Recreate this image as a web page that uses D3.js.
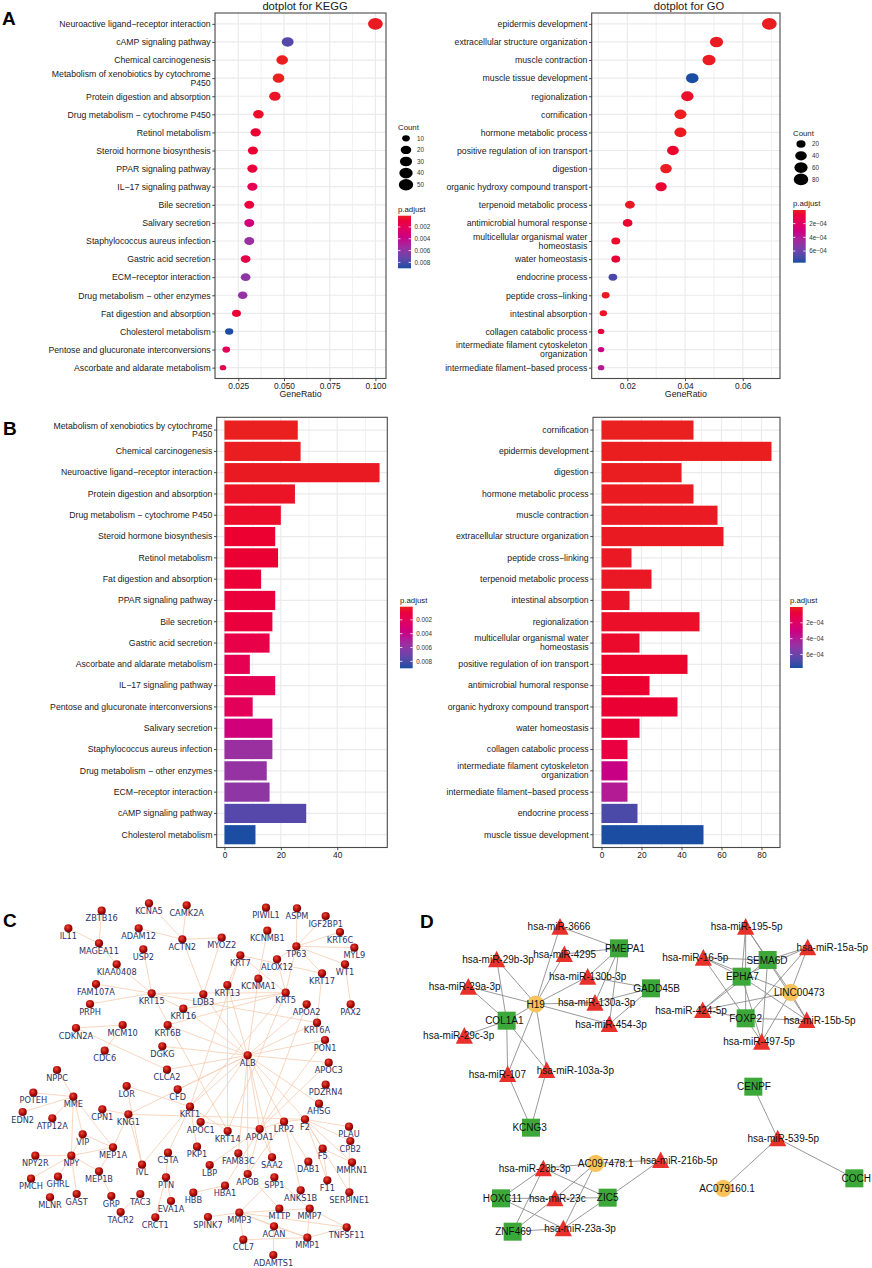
<!DOCTYPE html>
<html>
<head>
<meta charset="utf-8">
<script src="https://cdn.jsdelivr.net/npm/d3@7"></script>
<style>
  body { margin: 0; background: #fff; }
  svg { display: block; }
</style>
</head>
<body>
<script>
// ---------- data: KEGG enrichment (dotplot order) ----------
const keggTerms = ["Neuroactive ligand\u2212receptor interaction", "cAMP signaling pathway", "Chemical carcinogenesis",
  "Metabolism of xenobiotics by cytochrome P450", "Protein digestion and absorption", "Drug metabolism \u2212 cytochrome P450",
  "Retinol metabolism", "Steroid hormone biosynthesis", "PPAR signaling pathway", "IL\u221217 signaling pathway",
  "Bile secretion", "Salivary secretion", "Staphylococcus aureus infection", "Gastric acid secretion",
  "ECM\u2212receptor interaction", "Drug metabolism \u2212 other enzymes", "Fat digestion and absorption",
  "Cholesterol metabolism", "Pentose and glucuronate interconversions", "Ascorbate and aldarate metabolism"];
const keggRatio = [0.100, 0.052, 0.049, 0.047, 0.045, 0.036, 0.0345, 0.033, 0.0327, 0.0327,
  0.031, 0.031, 0.031, 0.029, 0.029, 0.0274, 0.024, 0.020, 0.0184, 0.0166];
const keggCount = [55, 29, 27, 26, 25, 20, 19, 18, 18, 18, 17, 17, 17, 16, 16, 15, 13, 11, 10, 9];
const keggPadj = [0.0002, 0.0077, 0.00015, 0.0001, 0.0003, 0.0004, 0.0007, 0.0006, 0.0009, 0.0018,
  0.0010, 0.0034, 0.0056, 0.0014, 0.0060, 0.0058, 0.0008, 0.0090, 0.0020, 0.0017];

// ---------- data: GO enrichment (dotplot order) ----------
const goTerms = ["epidermis development", "extracellular structure organization", "muscle contraction",
  "muscle tissue development", "regionalization", "cornification", "hormone metabolic process",
  "positive regulation of ion transport", "digestion", "organic hydroxy compound transport",
  "terpenoid metabolic process", "antimicrobial humoral response", "multicellular organismal water homeostasis",
  "water homeostasis", "endocrine process", "peptide cross\u2212linking", "intestinal absorption",
  "collagen catabolic process", "intermediate filament cytoskeleton organization", "intermediate filament\u2212based process"];
const goRatio = [0.0692, 0.0509, 0.0483, 0.0425, 0.0408, 0.0384, 0.0384, 0.0358, 0.0334, 0.0317,
  0.0209, 0.0201, 0.0160, 0.0160, 0.0150, 0.0125, 0.0117, 0.0109, 0.0109, 0.0109];
const goCount = [85, 61, 58, 51, 49, 46, 46, 43, 40, 38, 25, 24, 19, 19, 18, 15, 14, 13, 13, 13];
const goPadj = [0.000002, 0.000010, 0.000008, 0.00077, 0.000025, 0.000001, 0.000006, 0.000035, 0.000004, 0.00005,
  0.000015, 0.00004, 0.00003, 0.00006, 0.00068, 0.000012, 0.00002, 0.00009, 0.00032, 0.00040];

const keggTicks = [0.025, 0.050, 0.075, 0.100];
const goTicks = [0.02, 0.04, 0.06];
const keggCountBreaks = [10, 20, 30, 40, 50];
const goCountBreaks = [20, 40, 60, 80];
const keggPadjBreaks = [0.002, 0.004, 0.006, 0.008];
const goPadjBreaks = [0.0002, 0.0004, 0.0006];
const keggBarTicks = [0, 20, 40];
const goBarTicks = [0, 20, 40, 60, 80];

// ---------- data: PPI network (panel C), layout in source units ----------
const cNodes = [
  ["ZBTB16",305,122],["IL11",205,175],["MAGEA11",297,220],["KCNA5",447,100],["CAMK2A",560,106],["ADAM12",416,175],
  ["ACTN2",547,208],["MYOZ2",665,203],["USP2",430,238],["KIAA0408",350,283],["FAM107A",288,342],["KRT15",455,370],
  ["PRPH",270,402],["LDB3",610,373],["KRT16",550,416],["KRT6B",503,465],["CDKN2A",228,474],["MCM10",368,465],
  ["CDC6",314,542],["DGKG",487,529],["PIWIL1",798,113],["ASPM",891,115],["IGF2BP1",977,138],["KCNMB1",802,182],
  ["KRT6C",1020,186],["TP63",889,229],["MYL9",1063,233],["KRT7",721,256],["ALOX12",831,268],["WT1",1035,283],
  ["KRT17",966,310],["KCNMA1",775,326],["KRT13",682,345],["KRT5",857,368],["APOA2",920,403],["PAX2",1052,403],
  ["KRT6A",951,458],["PON1",975,510],["ALB",743,556],["APOC3",986,578],["NPPC",171,600],["CLCA2",501,599],
  ["PDZRN4",977,644],["LOR",380,648],["CFD",533,658],["POTEH",100,668],["MME",220,680],["AHSG",957,701],
  ["EDN2",68,726],["CPN1",307,718],["KNG1",385,733],["KRT1",570,710],["F2",915,748],["ATP12A",157,745],
  ["APOC1",602,756],["LRP2",852,755],["PLAU",1047,770],["APOA1",779,777],["KRT14",683,783],["VIP",248,793],
  ["CPB2",1051,813],["MEP1A",339,832],["PKP1",591,830],["F5",968,836],["CSTA",504,848],["FAM83C",715,850],
  ["NPY2R",106,857],["NPY",214,857],["SAA2",816,862],["MMRN1",1056,877],["DAB1",925,875],["IVL",426,884],
  ["LBP",629,885],["MEP1B",297,904],["APOB",743,912],["PMCH",93,926],["GHRL",174,920],["SPP1",823,922],
  ["PTN",498,922],["F11",982,931],["HBA1",675,947],["ANKS1B",902,961],["SERPINE1",1048,967],["MLNR",150,982],
  ["GAST",230,972],["GRP",334,978],["TAC3",421,972],["HBB",580,968],["EVA1A",513,993],["TACR2",362,1026],
  ["MMP3",718,1028],["MTTP",838,1016],["MMP7",929,1016],["CRCT1",466,1042],["SPINK7",624,1041],["ACAN",822,1069],
  ["TNFSF11",1040,1072],["CCL7",730,1109],["MMP1",922,1103],["ADAMTS1",820,1155]
];
const cEdges = [
  ["ZBTB16","MAGEA11"],["IL11","MAGEA11"],["MAGEA11","KIAA0408"],["KIAA0408","KRT15"],["USP2","KRT15"],
  ["FAM107A","KRT15"],["PRPH","KRT15"],["KRT15","KRT16"],["KRT15","KRT6A"],["KRT15","KRT14"],["KRT15","KRT5"],
  ["KCNA5","ACTN2"],["CAMK2A","ACTN2"],["ADAM12","ACTN2"],["ACTN2","MYOZ2"],["ACTN2","LDB3"],["MYOZ2","LDB3"],
  ["LDB3","ALB"],["KRT7","KRT17"],["KRT7","KRT13"],["KRT7","KRT5"],["KRT7","KRT1"],
  ["ASPM","TP63"],["IGF2BP1","TP63"],["KRT6C","TP63"],["MYL9","TP63"],["WT1","TP63"],["TP63","KRT5"],
  ["TP63","ALOX12"],["KRT17","TP63"],["WT1","PAX2"],["KRT17","KRT6A"],["KCNMB1","KCNMA1"],["KCNMA1","ALB"],
  ["ALOX12","KRT5"],["KRT5","KRT14"],["KRT5","KRT1"],["KRT5","KRT6B"],["KRT5","KRT16"],["KRT13","KRT14"],
  ["ALB","DGKG"],["ALB","CFD"],["ALB","CLCA2"],["ALB","KRT1"],["ALB","APOA1"],["ALB","APOA2"],["ALB","APOC3"],
  ["ALB","PON1"],["ALB","AHSG"],["ALB","F2"],["ALB","LRP2"],["ALB","APOC1"],["ALB","SAA2"],["ALB","APOB"],
  ["ALB","KRT6A"],["ALB","KRT13"],["ALB","KRT16"],["ALB","KRT6B"],["ALB","FAM83C"],["ALB","KNG1"],
  ["CDKN2A","MCM10"],["MCM10","CDC6"],["CDKN2A","CLCA2"],
  ["NPPC","MME"],["POTEH","MME"],["EDN2","MME"],["ATP12A","MME"],["MME","NPY"],["MME","VIP"],["MME","MEP1A"],
  ["NPY2R","NPY"],["PMCH","NPY"],["GHRL","NPY"],["GAST","NPY"],["VIP","NPY"],["NPY","MEP1A"],["NPY","MEP1B"],
  ["MEP1A","MEP1B"],["MEP1B","GRP"],["GHRL","MLNR"],["MEP1A","KNG1"],["VIP","MEP1A"],
  ["CPN1","KNG1"],["KNG1","F2"],["KNG1","IVL"],["LOR","KRT1"],["LOR","IVL"],["IVL","KRT1"],["CSTA","KRT1"],
  ["PKP1","KRT1"],["KRT1","KRT14"],["PTN","EVA1A"],["TAC3","TACR2"],["PTN","CSTA"],["CRCT1","PTN"],
  ["F2","PLAU"],["F2","CPB2"],["F2","F5"],["F2","F11"],["F2","SERPINE1"],["F2","MMRN1"],["F2","AHSG"],["F2","LRP2"],
  ["PLAU","SERPINE1"],["F5","MMRN1"],["F5","F11"],["LRP2","DAB1"],["LRP2","APOA1"],["LRP2","APOB"],["LRP2","ANKS1B"],
  ["APOA1","APOC1"],["APOA1","APOC3"],["APOA1","APOA2"],["APOA1","PON1"],["APOA1","SAA2"],["APOA1","APOB"],
  ["APOA1","LBP"],["APOA1","HBA1"],["HBA1","HBB"],["APOB","MTTP"],["MMP3","MMP7"],["MMP3","MMP1"],
  ["MMP3","TNFSF11"],["MMP3","SPINK7"],["MMP7","MMP1"],["MMP7","TNFSF11"],["MMP1","TNFSF11"],["MMP1","CCL7"],
  ["CCL7","MMP3"],["ACAN","MMP3"],["ACAN","ADAMTS1"],["ACAN","MMP1"],["SPP1","MMP3"],["SPP1","MMP7"]
];

// ---------- data: ceRNA network (panel D): name, kind, x, y, label x ----------
const dNodes = [
  ["hsa-miR-3666","mir",420,170,417],["PMEPA1","gene",597,235,615],["hsa-miR-4295","mir",433,252,434],
  ["hsa-miR-29b-3p","mir",230,268,234],["GADD45B","gene",693,355,710],["hsa-miR-130b-3p","mir",503,320,503],
  ["hsa-miR-29a-3p","mir",145,350,134],["H19","lnc",347,402,347],["hsa-miR-130a-3p","mir",525,398,530],
  ["COL1A1","gene",260,452,253],["hsa-miR-454-3p","mir",568,462,573],["hsa-miR-29c-3p","mir",133,497,116],
  ["hsa-miR-107","mir",263,612,232],["hsa-miR-103a-3p","mir",380,600,466],["KCNG3","gene",333,773,329],
  ["hsa-miR-195-5p","mir",977,170,980],["hsa-miR-15a-5p","mir",1163,232,1237],["hsa-miR-16-5p","mir",850,263,826],
  ["SEMA6D","gene",1043,270,1041],["EPHA7","gene",965,320,967],["LINC00473","lnc",1112,367,1138],
  ["hsa-miR-424-5p","mir",848,420,813],["FOXP2","gene",977,445,977],["hsa-miR-15b-5p","mir",1160,450,1199],
  ["hsa-miR-497-5p","mir",1025,515,1017],["CENPF","gene",1000,650,1002],["hsa-miR-539-5p","mir",1073,805,1090],
  ["COCH","gene",1303,925,1309],["AC079160.1","lnc",910,955,921],["AC097478.1","lnc",527,880,557],
  ["hsa-miR-216b-5p","mir",722,870,777],["hsa-miR-23b-3p","mir",370,895,344],["HOXC11","gene",243,985,247],
  ["hsa-miR-23c","mir",405,985,412],["ZIC5","gene",563,983,563],["ZNF469","gene",278,1085,280],
  ["hsa-miR-23a-3p","mir",430,1075,480]
];
const dEdges = [
  ["H19","hsa-miR-3666"],["H19","hsa-miR-4295"],["H19","hsa-miR-29b-3p"],["H19","hsa-miR-29a-3p"],
  ["H19","hsa-miR-130b-3p"],["H19","hsa-miR-130a-3p"],["H19","hsa-miR-454-3p"],["H19","COL1A1"],
  ["H19","hsa-miR-107"],["H19","hsa-miR-103a-3p"],["hsa-miR-3666","PMEPA1"],["hsa-miR-4295","PMEPA1"],
  ["PMEPA1","hsa-miR-130b-3p"],["PMEPA1","hsa-miR-130a-3p"],["PMEPA1","hsa-miR-454-3p"],
  ["GADD45B","hsa-miR-130b-3p"],["GADD45B","hsa-miR-130a-3p"],["GADD45B","hsa-miR-454-3p"],
  ["COL1A1","hsa-miR-29b-3p"],["COL1A1","hsa-miR-29a-3p"],["COL1A1","hsa-miR-29c-3p"],
  ["COL1A1","hsa-miR-107"],["COL1A1","hsa-miR-103a-3p"],["hsa-miR-107","KCNG3"],["hsa-miR-103a-3p","KCNG3"],
  ["hsa-miR-195-5p","SEMA6D"],["hsa-miR-195-5p","EPHA7"],["hsa-miR-195-5p","FOXP2"],["hsa-miR-195-5p","LINC00473"],
  ["hsa-miR-15a-5p","SEMA6D"],["hsa-miR-15a-5p","EPHA7"],["hsa-miR-15a-5p","FOXP2"],["hsa-miR-15a-5p","LINC00473"],
  ["hsa-miR-16-5p","SEMA6D"],["hsa-miR-16-5p","EPHA7"],["hsa-miR-16-5p","FOXP2"],["hsa-miR-16-5p","LINC00473"],
  ["hsa-miR-424-5p","SEMA6D"],["hsa-miR-424-5p","EPHA7"],["hsa-miR-424-5p","FOXP2"],["hsa-miR-424-5p","LINC00473"],
  ["hsa-miR-15b-5p","SEMA6D"],["hsa-miR-15b-5p","EPHA7"],["hsa-miR-15b-5p","FOXP2"],["hsa-miR-15b-5p","LINC00473"],
  ["hsa-miR-497-5p","SEMA6D"],["hsa-miR-497-5p","EPHA7"],["hsa-miR-497-5p","FOXP2"],["hsa-miR-497-5p","LINC00473"],
  ["CENPF","hsa-miR-539-5p"],["hsa-miR-539-5p","COCH"],["hsa-miR-539-5p","AC079160.1"],
  ["AC097478.1","hsa-miR-23b-3p"],["AC097478.1","hsa-miR-216b-5p"],["AC097478.1","hsa-miR-23c"],
  ["AC097478.1","hsa-miR-23a-3p"],["hsa-miR-216b-5p","ZIC5"],
  ["hsa-miR-23b-3p","HOXC11"],["hsa-miR-23b-3p","ZIC5"],["hsa-miR-23b-3p","ZNF469"],
  ["hsa-miR-23c","HOXC11"],["hsa-miR-23c","ZIC5"],["hsa-miR-23c","ZNF469"],
  ["hsa-miR-23a-3p","HOXC11"],["hsa-miR-23a-3p","ZIC5"],["hsa-miR-23a-3p","ZNF469"]
];

// ---------- setup ----------
const FONT = "'Liberation Sans', Arial, Helvetica, sans-serif";
const svg = d3.select("body").append("svg").attr("width", 872).attr("height", 1268)
  .style("font-family", FONT);
const defs = svg.append("defs");
// p.adjust ramp: red -> magenta -> purple -> blue, as in the source
const padjRamp = d3.interpolateHcl("#EA1F1F", "#1B4EA2");
const GRID = "#EBEBEB";
const AXIS_FS = 8.7;

function minorTicks(major, domain) {
  var step = major[1] - major[0], out = [];
  for (var v = major[0] - step * 5 + step / 2; v <= domain[1]; v += step) {
    if (v >= domain[0]) out.push(v);
  }
  return out;
}

function wrapLabel(s, width) {
  var lines = [], cur = "";
  s.split(" ").forEach(function(w) {
    if (cur && (cur + " " + w).length > width) { lines.push(cur); cur = w; }
    else cur = cur ? cur + " " + w : w;
  });
  if (cur) lines.push(cur);
  return lines;
}

function expFormat(d) {
  var p = d.toExponential(0).split("e");
  var e = +p[1];
  return p[0] + "e" + (e < 0 ? "\u2212" : "+") + String(Math.abs(e)).padStart(2, "0");
}

// shared y-axis with wrapped term labels
function termAxis(g, y, left) {
  var ax = g.append("g").attr("transform", "translate(" + left + ",0)")
    .call(d3.axisLeft(y).tickSize(2.7).tickPadding(1.6));
  ax.select(".domain").remove();
  ax.selectAll(".tick line").attr("stroke", "#333").attr("stroke-width", 0.9);
  ax.selectAll(".tick text").attr("font-size", AXIS_FS).attr("fill", "#1a1a1a").attr("font-family", FONT)
    .each(function(d) {
      var t = d3.select(this), lines = wrapLabel(d, 40);
      if (lines.length < 2) return;
      var x = t.attr("x");
      t.text(null).attr("dy", null);
      lines.forEach(function(l, k) {
        t.append("tspan").attr("x", x)
          .attr("dy", k === 0 ? (0.32 - (lines.length - 1) * 0.5) + "em" : "1.0em").text(l);
      });
    });
}

function valueAxis(g, x, bottom, ticks, fmt) {
  var ax = g.append("g").attr("transform", "translate(0," + bottom + ")")
    .call(d3.axisBottom(x).tickValues(ticks).tickFormat(fmt).tickSize(2.7).tickPadding(1.4));
  ax.select(".domain").remove();
  ax.selectAll(".tick line").attr("stroke", "#333").attr("stroke-width", 0.9);
  ax.selectAll(".tick text").attr("font-size", 8.4).attr("fill", "#1a1a1a").attr("font-family", FONT);
}

function gridX(g, x, ticks, domain, top, bottom) {
  g.selectAll(null).data(minorTicks(ticks, domain)).join("line")
    .attr("x1", d => x(d)).attr("x2", d => x(d)).attr("y1", top).attr("y2", bottom)
    .attr("stroke", GRID).attr("stroke-width", 0.7);
  g.selectAll(null).data(ticks).join("line")
    .attr("x1", d => x(d)).attr("x2", d => x(d)).attr("y1", top).attr("y2", bottom)
    .attr("stroke", GRID).attr("stroke-width", 1.2);
}

function gridY(g, ys, left, right) {
  g.selectAll(null).data(ys).join("line")
    .attr("x1", left).attr("x2", right).attr("y1", d => d).attr("y2", d => d)
    .attr("stroke", GRID).attr("stroke-width", 1.2);
}

function border(g, left, right, top, bottom) {
  g.append("rect").attr("x", left).attr("y", top).attr("width", right - left).attr("height", bottom - top)
    .attr("fill", "none").attr("stroke", "#4a4a4a").attr("stroke-width", 1.1);
}

var gradId = 0;
function colorbar(padj, breaks, fmt, o) {
  var ext = d3.extent(padj), col = d3.scaleSequential(padjRamp).domain(ext);
  var yb = d3.scaleLinear().domain(ext).range([o.top, o.bottom]);
  var id = "pgrad" + (gradId++);
  var lg = defs.append("linearGradient").attr("id", id).attr("x1", 0).attr("y1", 0).attr("x2", 0).attr("y2", 1);
  d3.range(0, 1.0001, 0.1).forEach(function(t) {
    lg.append("stop").attr("offset", t).attr("stop-color", col(ext[0] + t * (ext[1] - ext[0])));
  });
  var g = svg.append("g");
  g.append("text").attr("x", o.x).attr("y", o.top - 4).attr("font-size", 7.8).attr("fill", "#1a1a1a").text("p.adjust");
  g.append("rect").attr("x", o.x).attr("y", o.top).attr("width", o.w).attr("height", o.bottom - o.top)
    .attr("fill", "url(#" + id + ")");
  breaks.forEach(function(b) {
    [o.x, o.x + o.w - 2.4].forEach(function(xx) {
      g.append("line").attr("x1", xx).attr("x2", xx + 2.4).attr("y1", yb(b)).attr("y2", yb(b))
        .attr("stroke", "#fff").attr("stroke-width", 0.8);
    });
    g.append("text").attr("x", o.x + o.w + 3.5).attr("y", yb(b) + 2.2).attr("font-size", 6.3)
      .attr("fill", "#333").text(fmt(b));
  });
}

// ---------- dotplot ----------
function dotplot(o) {
  var g = svg.append("g");
  var x = d3.scaleLinear().domain(o.xDomain).range([o.left, o.right]);
  var y = d3.scalePoint().domain(o.terms).range([o.top, o.bottom]).padding(0.6);
  var col = d3.scaleSequential(padjRamp).domain(d3.extent(o.padj));
  var sizeT = d3.scaleLinear().domain(d3.extent(o.count)).range([0, 1]);
  var dotW = function(c) { return 6.5 + Math.sqrt(Math.max(0, sizeT(c))) * 8.3; };

  gridX(g, x, o.ticks, o.xDomain, o.top, o.bottom);
  gridY(g, o.terms.map(t => y(t)), o.left, o.right);

  g.selectAll("ellipse.dot").data(o.terms).join("ellipse").attr("class", "dot")
    .attr("cx", (d, i) => x(o.ratio[i])).attr("cy", d => y(d))
    .attr("rx", (d, i) => dotW(o.count[i]) / 2).attr("ry", (d, i) => dotW(o.count[i]) * 0.4)
    .attr("fill", (d, i) => col(o.padj[i]));

  border(g, o.left, o.right, o.top, o.bottom);
  termAxis(g, y, o.left);
  valueAxis(g, x, o.bottom, o.ticks, o.fmt);

  g.append("text").attr("x", (o.left + o.right) / 2).attr("y", o.bottom + 18.5).attr("text-anchor", "middle")
    .attr("font-size", 8.8).attr("fill", "#1a1a1a").text("GeneRatio");
  g.append("text").attr("x", o.titleX).attr("y", 9.5).attr("text-anchor", "middle")
    .attr("font-size", 11.2).attr("fill", "#1a1a1a").text(o.title);

  // size legend
  var lg = svg.append("g");
  lg.append("text").attr("x", o.legX).attr("y", o.legTop - 8).attr("font-size", 7.8).attr("fill", "#1a1a1a").text("Count");
  o.countBreaks.forEach(function(c, k) {
    var cy = o.legTop + k * o.legStep;
    lg.append("ellipse").attr("cx", o.legX + 8).attr("cy", cy).attr("rx", dotW(c) / 2).attr("ry", dotW(c) * 0.4).attr("fill", "#000");
    lg.append("text").attr("x", o.legX + 19).attr("y", cy + 2.2).attr("font-size", 6.3).attr("fill", "#333").text(c);
  });
  colorbar(o.padj, o.padjBreaks, o.padjFmt, o.bar);
}

// ---------- barplot ----------
function barplot(o) {
  var g = svg.append("g");
  var order = d3.range(o.terms.length).sort((a, b) => o.padj[a] - o.padj[b]);
  var terms = order.map(i => o.terms[i]);
  var maxC = d3.max(o.count);
  var xDomain = [-0.05 * maxC, 1.05 * maxC];
  var x = d3.scaleLinear().domain(xDomain).range([o.left, o.right]);
  var y = d3.scaleBand().domain(terms).range([o.top, o.bottom]).paddingInner(0.1).paddingOuter(0.15);
  var col = d3.scaleSequential(padjRamp).domain(d3.extent(o.padj));

  gridX(g, x, o.ticks, xDomain, o.top, o.bottom);
  gridY(g, terms.map(t => y(t) + y.bandwidth() / 2), o.left, o.right);

  g.selectAll("rect.bar").data(order).join("rect").attr("class", "bar")
    .attr("x", x(0)).attr("y", i => y(o.terms[i]))
    .attr("width", i => x(o.count[i]) - x(0)).attr("height", y.bandwidth())
    .attr("fill", i => col(o.padj[i]));

  border(g, o.left, o.right, o.top, o.bottom);
  termAxis(g, y, o.left);
  valueAxis(g, x, o.bottom, o.ticks, d3.format("d"));
  colorbar(o.padj, o.padjBreaks, o.padjFmt, o.bar);
}

// ---------- panel A ----------
dotplot({
  terms: keggTerms, ratio: keggRatio, count: keggCount, padj: keggPadj,
  left: 215, right: 386, top: 13, bottom: 378.5, xDomain: [0.01225, 0.1058],
  ticks: keggTicks, fmt: d3.format(".3f"), title: "dotplot for KEGG", titleX: 305,
  legX: 398, legTop: 138.3, legStep: 11.6, countBreaks: keggCountBreaks,
  padjBreaks: keggPadjBreaks, padjFmt: d3.format(".3f"),
  bar: { x: 398, w: 13, top: 215.7, bottom: 268.3 }
});
dotplot({
  terms: goTerms, ratio: goRatio, count: goCount, padj: goPadj,
  left: 591.7, right: 780, top: 13, bottom: 378.5, xDomain: [0.00766, 0.0729],
  ticks: goTicks, fmt: d3.format(".2f"), title: "dotplot for GO", titleX: 689,
  legX: 793, legTop: 144, legStep: 11.8, countBreaks: goCountBreaks,
  padjBreaks: goPadjBreaks, padjFmt: expFormat,
  bar: { x: 793, w: 12.7, top: 210, bottom: 262.7 }
});

// ---------- panel B ----------
barplot({
  terms: keggTerms, count: keggCount, padj: keggPadj,
  left: 216.7, right: 387.3, top: 417.3, bottom: 847.5, ticks: keggBarTicks,
  padjBreaks: keggPadjBreaks, padjFmt: d3.format(".3f"),
  bar: { x: 400, w: 12.7, top: 606.7, bottom: 668.3 }
});
barplot({
  terms: goTerms, count: goCount, padj: goPadj,
  left: 593, right: 780, top: 417.3, bottom: 847.5, ticks: goBarTicks,
  padjBreaks: goPadjBreaks, padjFmt: expFormat,
  bar: { x: 790, w: 12.7, top: 607, bottom: 668 }
});

// ---------- panel C: PPI network ----------
(function() {
  var sx = d3.scaleLinear().domain([0, 1260]).range([0, 420]);
  var sy = d3.scaleLinear().domain([0, 1170]).range([870, 1260]);
  var pos = {};
  cNodes.forEach(n => { pos[n[0]] = [sx(n[1]), sy(n[2])]; });
  var rg = defs.append("radialGradient").attr("id", "ball").attr("cx", "40%").attr("cy", "35%").attr("r", "65%");
  rg.append("stop").attr("offset", 0).attr("stop-color", "#e84a3a");
  rg.append("stop").attr("offset", 0.55).attr("stop-color", "#b80f0a");
  rg.append("stop").attr("offset", 1).attr("stop-color", "#6e0000");
  var g = svg.append("g");
  g.selectAll("line").data(cEdges).join("line")
    .attr("x1", e => pos[e[0]][0]).attr("y1", e => pos[e[0]][1])
    .attr("x2", e => pos[e[1]][0]).attr("y2", e => pos[e[1]][1])
    .attr("stroke", "#F7CFB3").attr("stroke-width", 0.85);
  g.selectAll("circle").data(cNodes).join("circle")
    .attr("cx", n => pos[n[0]][0]).attr("cy", n => pos[n[0]][1]).attr("r", 4.1)
    .attr("fill", "url(#ball)");
  g.selectAll("text").data(cNodes).join("text")
    .attr("x", n => pos[n[0]][0]).attr("y", n => pos[n[0]][1] + 10.8)
    .attr("text-anchor", "middle").attr("font-family", "'DejaVu Sans', Verdana, sans-serif")
    .attr("font-size", 8.2).attr("fill", "#2b3467").text(n => n[0]);
})();

// ---------- panel D: ceRNA network ----------
(function() {
  var sx = d3.scaleLinear().domain([0, 1356]).range([420, 872]);
  var sy = d3.scaleLinear().domain([0, 1170]).range([870, 1260]);
  var pos = {};
  dNodes.forEach(n => { pos[n[0]] = [sx(n[2]), sy(n[3])]; });
  var fill = { mir: "#E8312B", gene: "#3DA83A", lnc: "#F9C35C" };
  var g = svg.append("g");
  g.selectAll("line").data(dEdges).join("line")
    .attr("x1", e => pos[e[0]][0]).attr("y1", e => pos[e[0]][1])
    .attr("x2", e => pos[e[1]][0]).attr("y2", e => pos[e[1]][1])
    .attr("stroke", "#8c8c8c").attr("stroke-width", 0.9);
  var nodes = g.selectAll("g.node").data(dNodes).join("g").attr("class", "node")
    .attr("transform", n => "translate(" + pos[n[0]][0] + "," + pos[n[0]][1] + ")");
  nodes.filter(n => n[1] === "mir").append("path").attr("d", "M0,-8.6L8.6,8L-8.6,8Z").attr("fill", fill.mir);
  nodes.filter(n => n[1] === "gene").append("rect").attr("x", -9).attr("y", -9).attr("width", 18).attr("height", 18).attr("fill", fill.gene);
  nodes.filter(n => n[1] === "lnc").append("circle").attr("r", 8.6).attr("fill", fill.lnc);
  g.selectAll("text").data(dNodes).join("text")
    .attr("x", n => sx(n[4])).attr("y", n => pos[n[0]][1] + 3.6)
    .attr("text-anchor", "middle").attr("font-size", 10).attr("fill", "#111").text(n => n[0]);
})();

// ---------- panel letters ----------
[["A", 2, 25], ["B", 3, 435], ["C", 3, 927], ["D", 420, 928]].forEach(function(p) {
  svg.append("text").attr("x", p[1]).attr("y", p[2]).attr("font-size", 19).attr("font-weight", "bold")
    .attr("fill", "#000").text(p[0]);
});
</script>
</body>
</html>
